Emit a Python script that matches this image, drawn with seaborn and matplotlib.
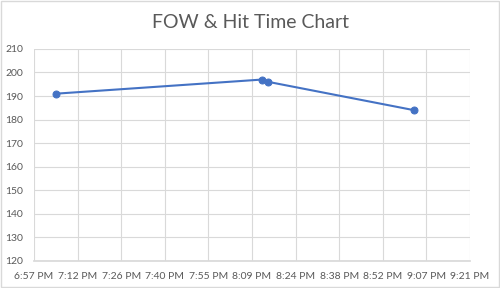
import seaborn as sns
import matplotlib.pyplot as plt
import pandas as pd
from matplotlib.ticker import FuncFormatter, FixedLocator

# data
times = ["7:05 PM", "8:13 PM", "8:15 PM", "9:03 PM"]
values = [191, 197, 196, 184]
x_ticks = [0.79, 0.80, 0.81, 0.82, 0.83, 0.84, 0.85, 0.86, 0.87, 0.88, 0.89]


def to_day_frac(s):
    t = pd.to_datetime(s, format="%I:%M %p")
    return (t.hour * 60 + t.minute) / 1440.0


def fmt_time(v, pos):
    mins = int(v * 1440 + 1e-6)
    h, m = divmod(mins, 60)
    suffix = "PM" if h >= 12 else "AM"
    h12 = h % 12 or 12
    return f"{h12}:{m:02d} {suffix}"


df = pd.DataFrame({"time": [to_day_frac(t) for t in times], "value": values})

sns.set_theme(style="white")
plt.rcParams["font.family"] = ["Lato", "DejaVu Sans"]

fig = plt.figure(figsize=(5, 2.88), dpi=100)
ax = fig.add_axes([0.068, 0.095, 0.872, 0.735])

sns.lineplot(data=df, x="time", y="value", sort=False, marker="o",
             color="#4472C4", linewidth=1.5, markersize=5,
             markeredgecolor="#4472C4", ax=ax)

ax.set_xlim(0.79, 0.89)
ax.set_ylim(120, 210)
ax.set_yticks(range(120, 211, 10))
ax.xaxis.set_major_locator(FixedLocator(x_ticks))
ax.xaxis.set_major_formatter(FuncFormatter(fmt_time))
ax.grid(True, color="#D9D9D9", linewidth=0.8)
ax.set_axisbelow(True)
for side in ["left", "right", "top"]:
    ax.spines[side].set_visible(False)
ax.spines["bottom"].set_color("#D9D9D9")
ax.tick_params(axis="both", length=0, labelsize=7.5, labelcolor="#595959")
ax.tick_params(axis="x", pad=8)
ax.tick_params(axis="y", pad=8)
ax.set_xlabel("")
ax.set_ylabel("")

fig.text(0.5, 0.922, "FOW & Hit Time Chart", ha="center", va="center",
         fontsize=14, color="#595959")
fig.patches.append(plt.Rectangle((0.002, 0.003), 0.996, 0.994, transform=fig.transFigure,
                                 fill=False, edgecolor="#D9D9D9", linewidth=1))

fig.savefig("out.png", dpi=100)
